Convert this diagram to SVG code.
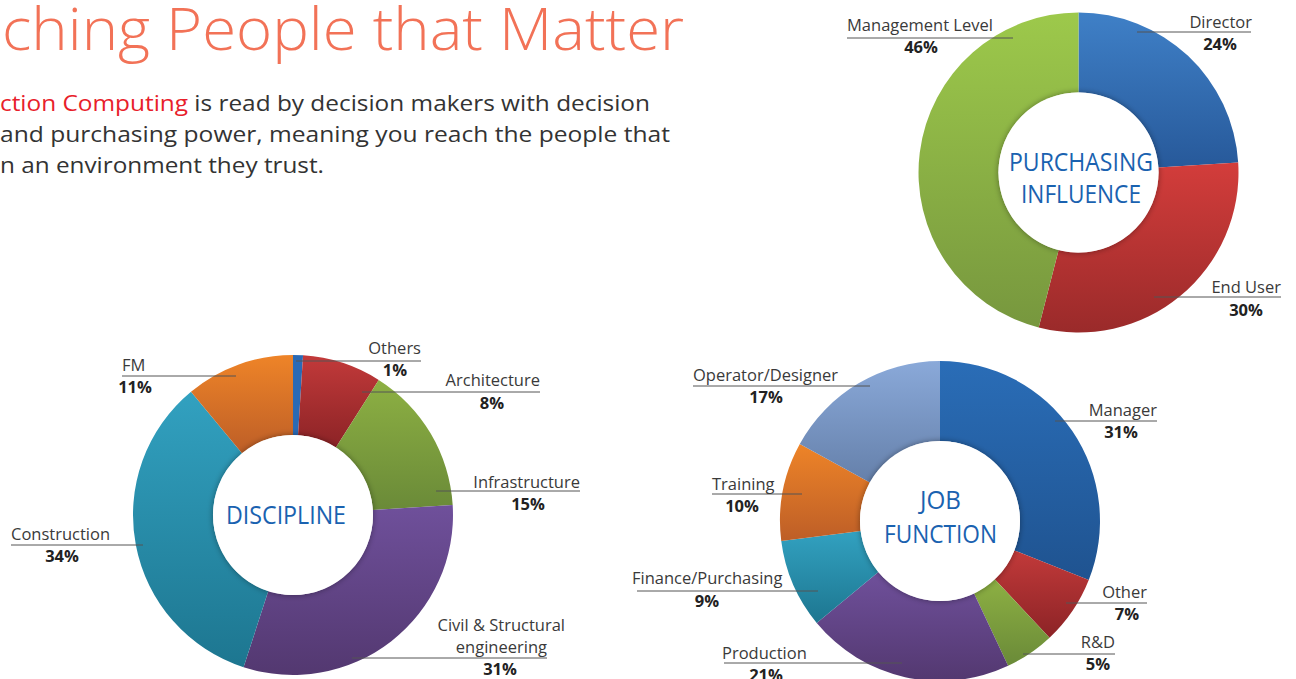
<svg xmlns="http://www.w3.org/2000/svg" width="1296" height="679" viewBox="0 0 1296 679">
<style>
.lbl{font-family:"Open Sans","Noto Sans",sans-serif;font-size:16.5px;fill:#3a3a3a}
.pct{font-family:"Open Sans","Noto Sans",sans-serif;font-size:16.5px;font-weight:bold;fill:#222}
.ctr{font-family:"Open Sans","Noto Sans",sans-serif;font-size:25px;fill:#1a62b0}
.ld{stroke:#555;stroke-width:1;fill:none}
.mid{text-anchor:middle}
.end{text-anchor:end}
</style>
<defs>
<filter id="sh" x="-20%" y="-20%" width="140%" height="140%">
<feGaussianBlur in="SourceAlpha" stdDeviation="3"/>
<feComponentTransfer><feFuncA type="linear" slope="0.4"/></feComponentTransfer>
<feMerge><feMergeNode/><feMergeNode in="SourceGraphic"/></feMerge>
</filter>
<linearGradient id="gBlue" x1="0" y1="0" x2="0" y2="1"><stop offset="0" stop-color="#3f80c7"/><stop offset="1" stop-color="#27599a"/></linearGradient>
<linearGradient id="gBlue2" x1="0" y1="0" x2="0" y2="1"><stop offset="0" stop-color="#2a6db7"/><stop offset="1" stop-color="#1f5390"/></linearGradient>
<linearGradient id="gRed" x1="0" y1="0" x2="0" y2="1"><stop offset="0" stop-color="#d33d3b"/><stop offset="1" stop-color="#9a2a2a"/></linearGradient>
<linearGradient id="gRed2" x1="0" y1="0" x2="0" y2="1"><stop offset="0" stop-color="#c23a3a"/><stop offset="1" stop-color="#8c2326"/></linearGradient>
<linearGradient id="gGreen" x1="0" y1="0" x2="0" y2="1"><stop offset="0" stop-color="#9dc94b"/><stop offset="1" stop-color="#77973e"/></linearGradient>
<linearGradient id="gGreen2" x1="0" y1="0" x2="0" y2="1"><stop offset="0" stop-color="#8db043"/><stop offset="1" stop-color="#6a8a38"/></linearGradient>
<linearGradient id="gPurple" x1="0" y1="0" x2="0" y2="1"><stop offset="0" stop-color="#6f509b"/><stop offset="1" stop-color="#533870"/></linearGradient>
<linearGradient id="gTeal" x1="0" y1="0" x2="0" y2="1"><stop offset="0" stop-color="#32a1c0"/><stop offset="1" stop-color="#1d7690"/></linearGradient>
<linearGradient id="gOrange" x1="0" y1="0" x2="0" y2="1"><stop offset="0" stop-color="#ee8428"/><stop offset="1" stop-color="#bd5e27"/></linearGradient>
<linearGradient id="gLight" x1="0" y1="0" x2="0" y2="1"><stop offset="0" stop-color="#8aa9d9"/><stop offset="1" stop-color="#6580aa"/></linearGradient>
</defs>
<rect width="1296" height="679" fill="#ffffff"/>

<g id="header">
<text x="2" y="50" font-family="'Open Sans','Noto Sans',sans-serif" font-weight="300" font-size="58" fill="#f27257" textLength="682" lengthAdjust="spacingAndGlyphs">ching People that Matter</text>
<text x="0" y="111" font-family="'Open Sans','Noto Sans',sans-serif" font-size="22" fill="#333" textLength="650" lengthAdjust="spacingAndGlyphs"><tspan fill="#e8202a">ction Computing</tspan> is read by decision makers with decision</text>
<text x="0" y="142" font-family="'Open Sans','Noto Sans',sans-serif" font-size="22" fill="#333" textLength="670" lengthAdjust="spacingAndGlyphs">and purchasing power, meaning you reach the people that</text>
<text x="0" y="173" font-family="'Open Sans','Noto Sans',sans-serif" font-size="22" fill="#333" textLength="324" lengthAdjust="spacingAndGlyphs">n an environment they trust.</text>
</g>

<g id="purchasing-influence">
<path d="M1078.5,12.5 A160,160 0 0 1 1238.18,162.45 L1158.34,167.48 A80,80 0 0 0 1078.5,92.5 Z" fill="url(#gBlue)"/>
<path d="M1238.18,162.45 A160,160 0 0 1 1038.71,327.47 L1058.60,249.99 A80,80 0 0 0 1158.34,167.48 Z" fill="url(#gRed)"/>
<path d="M1038.71,327.47 A160,160 0 0 1 1078.5,12.5 L1078.5,92.5 A80,80 0 0 0 1058.60,249.99 Z" fill="url(#gGreen)"/>
<circle cx="1078.5" cy="172.5" r="80" fill="#fff" filter="url(#sh)"/>
<text class="ctr mid" x="1081" y="171" textLength="144" lengthAdjust="spacingAndGlyphs">PURCHASING</text>
<text class="ctr mid" x="1081" y="203" textLength="120" lengthAdjust="spacingAndGlyphs">INFLUENCE</text>
</g>

<g id="discipline">
<path d="M293,355 A160,160 0 0 1 303.05,355.32 L298.02,435.16 A80,80 0 0 0 293,435 Z" fill="#2a6ab5"/>
<path d="M303.05,355.32 A160,160 0 0 1 378.73,379.91 L335.87,447.45 A80,80 0 0 0 298.02,435.16 Z" fill="url(#gRed2)"/>
<path d="M378.73,379.91 A160,160 0 0 1 452.68,504.95 L372.84,509.98 A80,80 0 0 0 335.87,447.45 Z" fill="url(#gGreen2)"/>
<path d="M452.68,504.95 A160,160 0 0 1 243.56,667.17 L268.28,591.08 A80,80 0 0 0 372.84,509.98 Z" fill="url(#gPurple)"/>
<path d="M243.56,667.17 A160,160 0 0 1 191.01,391.72 L242.01,453.36 A80,80 0 0 0 268.28,591.08 Z" fill="url(#gTeal)"/>
<path d="M191.01,391.72 A160,160 0 0 1 293,355 L293,435 A80,80 0 0 0 242.01,453.36 Z" fill="url(#gOrange)"/>
<circle cx="293" cy="515" r="80" fill="#fff" filter="url(#sh)"/>
<text class="ctr" x="226" y="524" textLength="120" lengthAdjust="spacingAndGlyphs">DISCIPLINE</text>
</g>

<g id="job-function">
<path d="M940,361 A160,160 0 0 1 1088.76,579.90 L1014.38,550.45 A80,80 0 0 0 940,441 Z" fill="url(#gBlue2)"/>
<path d="M1088.76,579.90 A160,160 0 0 1 1049.53,637.64 L994.76,579.32 A80,80 0 0 0 1014.38,550.45 Z" fill="url(#gRed2)"/>
<path d="M1049.53,637.64 A160,160 0 0 1 1008.12,665.77 L974.06,593.39 A80,80 0 0 0 994.76,579.32 Z" fill="url(#gGreen2)"/>
<path d="M1008.12,665.77 A160,160 0 0 1 816.72,622.99 L878.36,571.99 A80,80 0 0 0 974.06,593.39 Z" fill="url(#gPurple)"/>
<path d="M816.72,622.99 A160,160 0 0 1 781.26,541.05 L860.63,531.03 A80,80 0 0 0 878.36,571.99 Z" fill="url(#gTeal)"/>
<path d="M781.26,541.05 A160,160 0 0 1 799.79,443.92 L869.90,482.46 A80,80 0 0 0 860.63,531.03 Z" fill="url(#gOrange)"/>
<path d="M799.79,443.92 A160,160 0 0 1 940,361 L940,441 A80,80 0 0 0 869.90,482.46 Z" fill="url(#gLight)"/>
<circle cx="940" cy="521" r="80" fill="#fff" filter="url(#sh)"/>
<text class="ctr mid" x="940.5" y="509" textLength="41" lengthAdjust="spacingAndGlyphs">JOB</text>
<text class="ctr mid" x="940.5" y="543" textLength="113" lengthAdjust="spacingAndGlyphs">FUNCTION</text>
</g>

<g id="connectors">
<path class="ld" d="M847,38 H1013"/>
<path class="ld" d="M1137,32 H1251"/>
<path class="ld" d="M1154,297 H1281"/>
<path class="ld" d="M296,361 H421"/>
<path class="ld" d="M362,392 H540"/>
<path class="ld" d="M436,491 H580"/>
<path class="ld" d="M352,658 H547"/>
<path class="ld" d="M11,545 H143"/>
<path class="ld" d="M122,376 H236"/>
<path class="ld" d="M693,386 H870"/>
<path class="ld" d="M1055,421 H1157"/>
<path class="ld" d="M712,494 H802"/>
<path class="ld" d="M637,591 H818"/>
<path class="ld" d="M724,663 H902"/>
<path class="ld" d="M1066,603 H1147"/>
<path class="ld" d="M1023,654 H1115"/>
</g>

<g id="labels">
<text class="lbl" x="847" y="31">Management Level</text>
<text class="pct mid" x="921" y="53">46%</text>
<text class="lbl end" x="1252" y="28">Director</text>
<text class="pct mid" x="1220" y="50">24%</text>
<text class="lbl end" x="1281" y="293">End User</text>
<text class="pct mid" x="1246" y="316">30%</text>

<text class="lbl end" x="421" y="354">Others</text>
<text class="pct mid" x="395" y="376">1%</text>
<text class="lbl end" x="540" y="386">Architecture</text>
<text class="pct mid" x="492" y="409">8%</text>
<text class="lbl end" x="580" y="488">Infrastructure</text>
<text class="pct mid" x="528" y="510">15%</text>
<text class="lbl end" x="565" y="631">Civil &amp; Structural</text>
<text class="lbl end" x="547" y="653">engineering</text>
<text class="pct mid" x="500" y="675">31%</text>
<text class="lbl" x="11" y="540">Construction</text>
<text class="pct mid" x="62" y="562">34%</text>
<text class="lbl" x="122" y="371">FM</text>
<text class="pct mid" x="135" y="393">11%</text>

<text class="lbl" x="693" y="381">Operator/Designer</text>
<text class="pct mid" x="766" y="403">17%</text>
<text class="lbl end" x="1157" y="416">Manager</text>
<text class="pct mid" x="1121" y="438">31%</text>
<text class="lbl" x="712" y="490">Training</text>
<text class="pct mid" x="742" y="512">10%</text>
<text class="lbl" x="632" y="584">Finance/Purchasing</text>
<text class="pct mid" x="707" y="607">9%</text>
<text class="lbl" x="722" y="659">Production</text>
<text class="pct mid" x="766" y="681">21%</text>
<text class="lbl end" x="1147" y="598">Other</text>
<text class="pct mid" x="1127" y="620">7%</text>
<text class="lbl end" x="1115" y="648">R&amp;D</text>
<text class="pct mid" x="1098" y="670">5%</text>
</g>
</svg>
